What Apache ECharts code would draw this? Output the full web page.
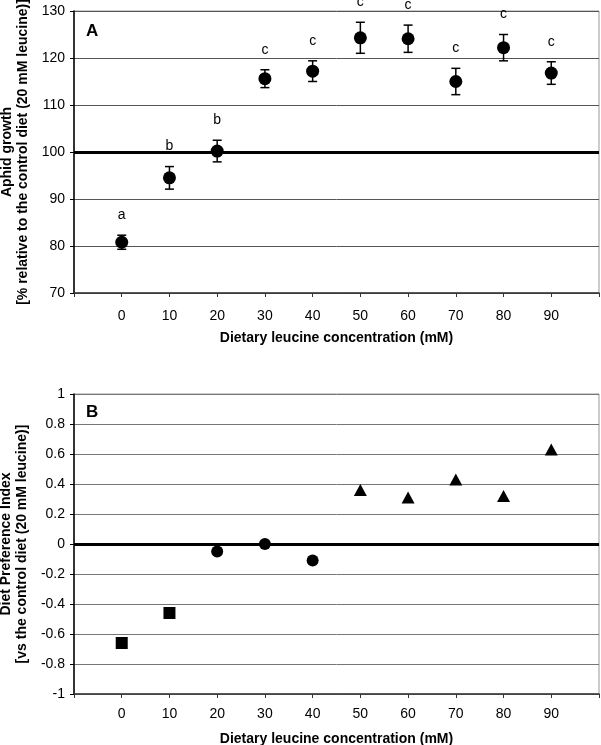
<!DOCTYPE html>
<html><head><meta charset="utf-8">
<script src="https://cdn.jsdelivr.net/npm/echarts@6/dist/echarts.min.js"></script>
<style>html,body{margin:0;padding:0;background:#fff}#c{width:601px;height:745px}</style>
</head><body><div id="c"></div>
<script>
var conc = [0, 10, 20, 30, 40, 50, 60, 70, 80, 90];
var growth = [80.8, 94.5, 100.2, 115.6, 117.2, 124.3, 124.1, 115.0, 122.2, 116.8];
var growthErr = [1.5, 2.4, 2.3, 1.9, 2.2, 3.3, 2.9, 2.8, 2.8, 2.4];
var letters = ['a', 'b', 'b', 'c', 'c', 'c', 'c', 'c', 'c', 'c'];
var dpi = [-0.66, -0.46, -0.05, 0.00, -0.11, 0.36, 0.31, 0.43, 0.32, 0.63];
var dpiShape = ['rect', 'rect', 'circle', 'circle', 'circle', 'triangle', 'triangle', 'triangle', 'triangle', 'triangle'];
var xTicks = [0, 10, 20, 30, 40, 50, 60, 70, 80, 90];

var FONT = 'Liberation Sans, Arial, sans-serif';
var chart = echarts.init(document.getElementById('c'), null, {renderer: 'canvas'});

function xAxisDef(gi, labelMargin, nameGap) {
  return {
    type: 'value', gridIndex: gi, min: -10, max: 100, interval: 10,
    name: 'Dietary leucine concentration (mM)', nameLocation: 'middle', nameGap: nameGap,
    nameTextStyle: {fontFamily: FONT, fontSize: 14, fontWeight: 'bold', color: '#000'},
    axisLine: {onZero: false, lineStyle: {color: '#333', width: 1.5}},
    axisTick: {show: true, length: 4, lineStyle: {color: '#333'}},
    axisLabel: {fontFamily: FONT, fontSize: 14, color: '#000', margin: labelMargin,
      formatter: function (v) { return xTicks.indexOf(v) >= 0 ? String(v) : ''; }},
    splitLine: {show: false}
  };
}

function yAxisDef(gi, min, max, interval, name, gridColor, fmt) {
  return {
    type: 'value', gridIndex: gi, min: min, max: max, interval: interval,
    name: name, nameLocation: 'middle', nameGap: 42, nameRotate: 90,
    nameTextStyle: {fontFamily: FONT, fontSize: 14, fontWeight: 'bold', color: '#000', lineHeight: 16, align: 'center'},
    axisLine: {show: true, onZero: false, lineStyle: {color: '#000', width: 1.5}},
    axisTick: {show: true, length: 4, lineStyle: {color: '#000'}},
    axisLabel: {fontFamily: FONT, fontSize: 14, color: '#000', margin: 9, formatter: fmt},
    splitLine: {show: true, lineStyle: {color: gridColor, width: 1}}
  };
}

var err = conc.map(function (c, i) { return [c, growth[i], growthErr[i], letters[i]]; });

var option = {
  animation: false,
  backgroundColor: '#fff',
  grid: [
    {left: 74, top: 11, width: 525, height: 282, show: true, borderColor: '#999', borderWidth: 1,
     backgroundColor: 'transparent', containLabel: false, outerBoundsMode: 'none'},
    {left: 74, top: 394, width: 525, height: 300, show: true, borderColor: '#999', borderWidth: 1,
     backgroundColor: 'transparent', containLabel: false, outerBoundsMode: 'none'}
  ],
  xAxis: [xAxisDef(0, 16, 38.5), xAxisDef(1, 13, 38)],
  yAxis: [
    yAxisDef(0, 70, 130, 10, 'Aphid growth\n[% relative to the control diet (20 mM leucine)]', '#555',
      function (v) { return String(v); }),
    yAxisDef(1, -1, 1, 0.2, 'Diet Preference Index\n[vs the control diet (20 mM leucine)]', '#777',
      function (v) { return String(Math.round(v * 10) / 10); })
  ],
  graphic: [
    {type: 'text', left: 86, top: 23, style: {text: 'A', font: 'bold 17px ' + FONT, fill: '#000'}},
    {type: 'text', left: 86, top: 404, style: {text: 'B', font: 'bold 17px ' + FONT, fill: '#000'}}
  ],
  series: [
    {type: 'scatter', xAxisIndex: 0, yAxisIndex: 0, symbol: 'circle', symbolSize: 13,
     itemStyle: {color: '#000', opacity: 1}, z: 5,
     data: conc.map(function (c, i) { return [c, growth[i]]; }),
     markLine: {silent: true, symbol: 'none', label: {show: false},
       lineStyle: {color: '#000', width: 3, type: 'solid'}, data: [{yAxis: 100}]}},
    {type: 'custom', xAxisIndex: 0, yAxisIndex: 0, clip: false, z: 4,
     data: err,
     renderItem: function (params, api) {
       var x = api.value(0), y = api.value(1), e = api.value(2);
       var top = api.coord([x, y + e]), bot = api.coord([x, y - e]);
       var cap = 4.5;
       var ls = {stroke: '#000', lineWidth: 1.5};
       return {type: 'group', children: [
         {type: 'line', shape: {x1: top[0], y1: top[1], x2: bot[0], y2: bot[1]}, style: ls},
         {type: 'line', shape: {x1: top[0] - cap, y1: top[1], x2: top[0] + cap, y2: top[1]}, style: ls},
         {type: 'line', shape: {x1: bot[0] - cap, y1: bot[1], x2: bot[0] + cap, y2: bot[1]}, style: ls},
         {type: 'text', x: top[0], y: top[1] - 20,
          style: {text: err[params.dataIndex][3], font: '14px ' + FONT, fill: '#000', align: 'center', verticalAlign: 'middle'}}
       ]};
     }},
    {type: 'scatter', xAxisIndex: 1, yAxisIndex: 1, itemStyle: {color: '#000', opacity: 1}, z: 5,
     data: conc.map(function (c, i) {
       var s = dpiShape[i];
       return {value: [c, dpi[i]], symbol: s,
         symbolSize: s === 'triangle' ? [13, 12] : 12};
     }),
     markLine: {silent: true, symbol: 'none', label: {show: false},
       lineStyle: {color: '#000', width: 3, type: 'solid'}, data: [{yAxis: 0}]}}
  ]
};
chart.setOption(option);
</script></body></html>
